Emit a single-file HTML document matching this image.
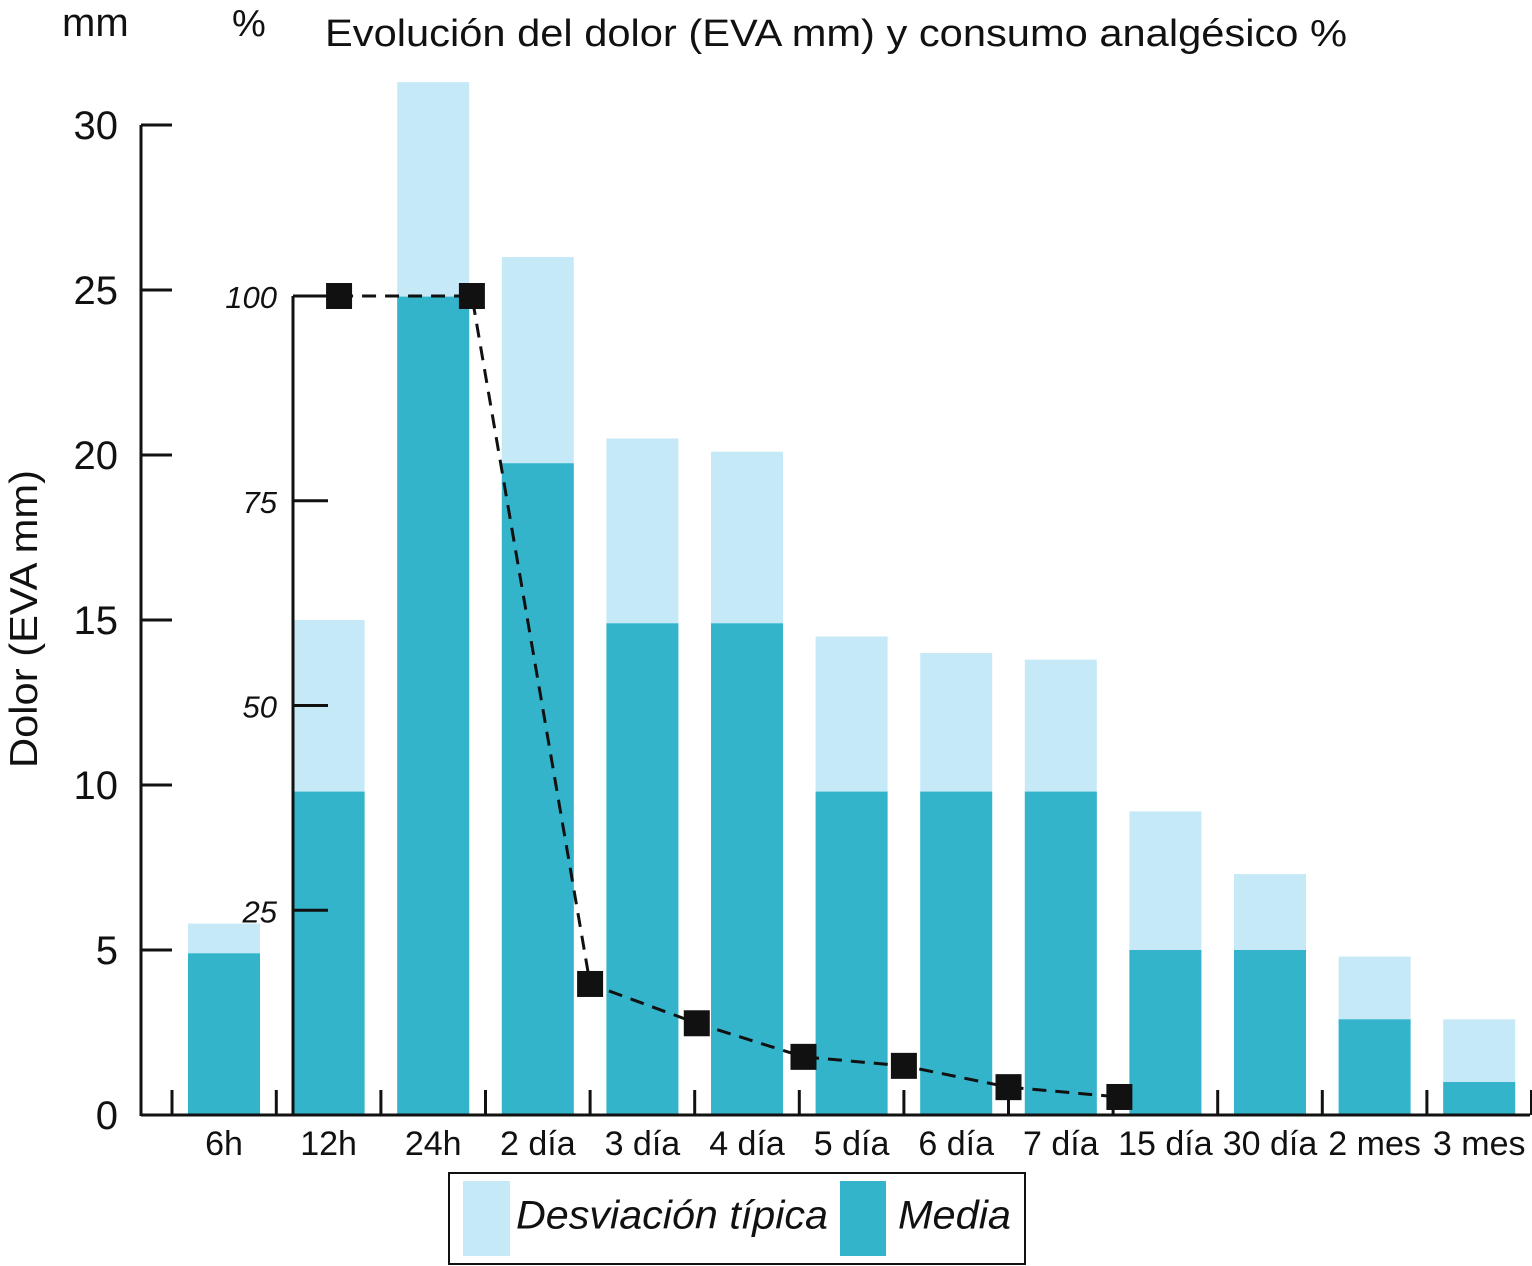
<!DOCTYPE html>
<html><head><meta charset="utf-8"><style>
html,body{margin:0;padding:0;background:#fff;}
svg{display:block;font-family:"Liberation Sans",Arial,sans-serif;}
</style></head><body>
<svg id="chart" width="1532" height="1266" viewBox="0 0 1532 1266" xmlns="http://www.w3.org/2000/svg">
<text x="325" y="46" font-size="38" textLength="1022" lengthAdjust="spacingAndGlyphs" fill="#111">Evolución del dolor (EVA mm) y consumo analgésico %</text>
<text x="62" y="36" font-size="40" fill="#111">mm</text>
<text x="232" y="36" font-size="38" fill="#111">%</text>
<text transform="translate(37,619) rotate(-90)" text-anchor="middle" font-size="39" textLength="298" lengthAdjust="spacingAndGlyphs" fill="#111">Dolor (EVA mm)</text>
<g id="bars"></g>
<g id="axes"></g>
<g id="line"></g>
<g>
<rect x="449" y="1173" width="576" height="91" fill="#fff" stroke="#111" stroke-width="2"/>
<rect x="463" y="1181" width="47" height="75" fill="#c6e9f8"/>
<text x="516" y="1218" dominant-baseline="middle" font-size="40" textLength="312" lengthAdjust="spacingAndGlyphs" font-style="italic" fill="#111">Desviación típica</text>
<rect x="840" y="1181" width="46" height="75" fill="#34b4cb"/>
<text x="898" y="1218" dominant-baseline="middle" font-size="40" textLength="113" lengthAdjust="spacingAndGlyphs" font-style="italic" fill="#111">Media</text>
</g>
</svg>
<script>
const categories=["6h","12h","24h","2 día","3 día","4 día","5 día","6 día","7 día","15 día","30 día","2 mes","3 mes"];
const meanValues=[4.9,9.8,24.8,19.75,14.9,14.9,9.8,9.8,9.8,5.0,5.0,2.9,1.0];
const topValues=[5.8,15.0,31.3,26.0,20.5,20.1,14.5,14.0,13.8,9.2,7.3,4.8,2.9];
const leftTicks=[0,5,10,15,20,25,30];
const rightTicks=[25,50,75,100];
const lineTimes=[1.1,2.37,3.5,4.52,5.54,6.5,7.5,8.56];
const linePercent=[100,100,16,11.2,7.1,6,3.4,2.2];

const NS="http://www.w3.org/2000/svg";
const yL=v=>1115-33*v;
const yR=p=>1115-8.19*p;
const xC=i=>224+104.6*i;
const BW=72;
function mk(tag,attrs,parent){const e=document.createElementNS(NS,tag);for(const k in attrs)e.setAttribute(k,attrs[k]);parent.appendChild(e);return e;}
const bars=document.getElementById('bars'),axes=document.getElementById('axes'),line=document.getElementById('line');
categories.forEach((c,i)=>{
  const t=mk('rect',{x:xC(i)-BW/2,y:yL(topValues[i]),width:BW,height:yL(0)-yL(topValues[i]),fill:'#c6e9f8'},bars);
  
  
  const m=mk('rect',{x:xC(i)-BW/2,y:yL(meanValues[i]),width:BW,height:yL(0)-yL(meanValues[i]),fill:'#34b4cb'},bars);
  
  
  const lb=mk('text',{x:xC(i),y:1155,'text-anchor':'middle','font-size':34,fill:'#111'},axes);
  lb.textContent=c;
  
  
});
const xa=mk('line',{x1:141,y1:1115,x2:1530,y2:1115,stroke:'#111','stroke-width':3},axes);


for(let i=0;i<=categories.length;i++){
  const bx=(i===0)?172:xC(i-0.5);
  const tk=mk('line',{x1:bx,y1:1090,x2:bx,y2:1115,stroke:'#111','stroke-width':3},axes);
  
  
}
const la=mk('line',{x1:141,y1:yL(30),x2:141,y2:1116,stroke:'#111','stroke-width':3},axes);


leftTicks.forEach(v=>{
  const t=mk('line',{x1:141,y1:yL(v),x2:172,y2:yL(v),stroke:'#111','stroke-width':3},axes);
  
  
  const l=mk('text',{x:118,y:yL(v)+14,'text-anchor':'end','font-size':40,fill:'#111'},axes);
  l.textContent=v;
  
  
});
const ra=mk('line',{x1:293,y1:yR(100),x2:293,y2:1116,stroke:'#111','stroke-width':3},axes);


rightTicks.forEach(v=>{
  const t=mk('line',{x1:293,y1:yR(v),x2:328,y2:yR(v),stroke:'#111','stroke-width':3},axes);
  
  
  const l=mk('text',{x:277,y:yR(v)+12,'text-anchor':'end','font-size':31,'font-style':'italic',fill:'#111'},axes);
  l.textContent=v;
  
  
});
const pts=lineTimes.map((t,i)=>xC(t)+','+yR(linePercent[i])).join(' ');
const pl=mk('polyline',{points:pts,fill:'none',stroke:'#111','stroke-width':3,'stroke-dasharray':'14 9'},line);


lineTimes.forEach((t,i)=>{
  const s=mk('rect',{x:xC(t)-13,y:yR(linePercent[i])-13,width:26,height:26,fill:'#111'},line);
  
  
});
</script>
</body></html>
